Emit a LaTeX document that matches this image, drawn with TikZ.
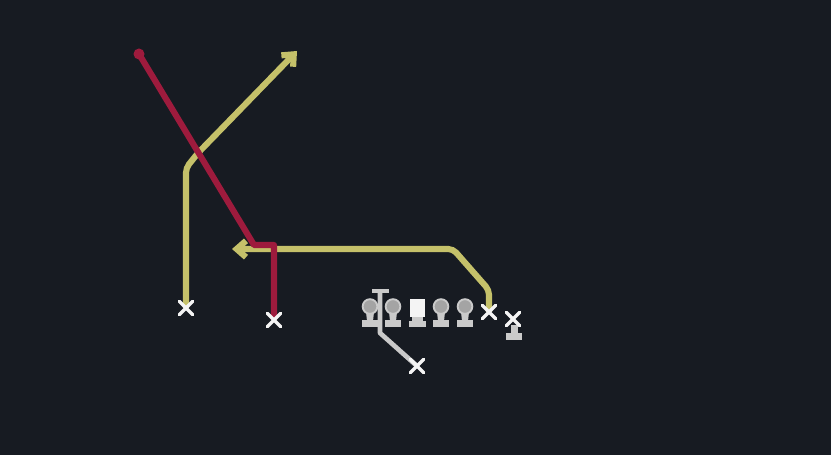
\documentclass[tikz,border=0pt]{standalone}
\usepackage{tikz}
\usetikzlibrary{calc}
\usetikzlibrary{arrows.meta}
\usetikzlibrary{shapes.misc}
\usetikzlibrary{backgrounds}

\definecolor{bgdark}{HTML}{171B22}
\definecolor{routeyellow}{HTML}{C5C16A}
\definecolor{routered}{HTML}{9E1B3D}
\definecolor{figgray}{HTML}{CACACA}
\definecolor{headgray}{HTML}{A4A4A4}
\definecolor{markwhite}{HTML}{F4F4F4}

\tikzset{
    yroute/.style={draw=routeyellow,line width=5.2pt,rounded corners=4pt},
    rroute/.style={draw=routered,line width=5.2pt},
    xmark/.style={cross out,draw=markwhite,line width=3pt,line cap=round,minimum size=0.29cm,inner sep=0pt},
    head/.style={circle,fill=headgray,draw=figgray,line width=1.6pt,minimum size=0.44cm,inner sep=0pt},
    fig/.style={fill=figgray},
    qbline/.style={draw=figgray,line width=4pt},
    barb/.style={-{Straight Barb[length=8pt,width=14pt]}},
}

% one blocker: base plate, stem and head
\newcommand{\lineman}[2]{%
    \fill[fig] (#2-8,320) rectangle (#2+8,327);
    \fill[fig] (#2-4,312) -- (#2+4,312) -- (#2+3,321) -- (#2-3,321) -- cycle;
    \node[head] (#1) at (#2,306.5) {};
}

\begin{document}
\begin{tikzpicture}[x=0.03cm,y=-0.03cm]
        % end points
        \coordinate (posttip) at (297,51);
        \coordinate (dragtip) at (232,249);
        \node[circle,fill=routered,minimum size=0.33cm,inner sep=0pt] (rdot) at (139,54) {};

        % line
        \lineman{lt}{370}
        \lineman{lg}{393}
        \fill[fig] (409,321) rectangle (426,327);
        \fill[fig] (412,316) rectangle (423,322);
        \node[fill=markwhite,minimum width=0.45cm,minimum height=0.54cm,inner sep=0pt] (c) at (417.5,308) {};
        \lineman{rg}{441}
        \lineman{rt}{465}

        % end pedestal
        \fill[fig] (511,325) rectangle (518,334);
        \fill[fig] (506,333) rectangle (522,340);

        % receivers
        \node[xmark] (wrx) at (186,308) {};
        \node[xmark] (slx) at (274,320) {};
        \node[xmark] (rtx) at (489,312) {};
        \node[xmark] (rbx) at (417,366) {};
        \node[xmark] (tex) at (513,319) {};

        \begin{pgfonlayer}{background}
        \fill[bgdark] (0,0) rectangle (831,455);

        % yellow routes
        \draw[yroute,barb] (wrx.center) -- (186,168) -- (198,153) -- (posttip);
        \draw[yroute,barb] (rtx.center) -- (489,290) -- (453,249) -- (dragtip);

        % red route
        \draw[rroute,line join=round] (slx.center) -- (274,245) -- (254,245) -- (rdot.center);

        % back with his route
        \coordinate (qbtop) at (380,291);
        \coordinate (qbfoot) at (380,333);
        \draw[qbline] (372,291) -- (389,291);
        \draw[qbline,line join=round] (qbtop) -- (qbfoot) -- (rbx.center);
        \end{pgfonlayer}
\end{tikzpicture}
\end{document}
